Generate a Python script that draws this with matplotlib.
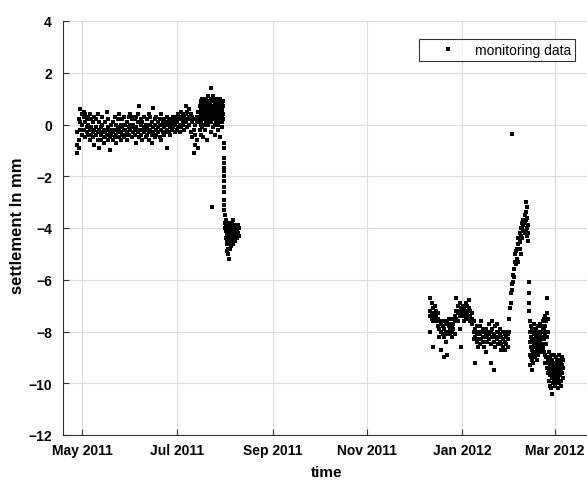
import matplotlib
matplotlib.use("Agg")
import matplotlib.pyplot as plt
import matplotlib.dates as mdates
import pandas as pd

plt.rcParams['font.family'] = ['Liberation Sans', 'DejaVu Sans']

# readings: (days after 2011-05-01, [settlement values in mm])
spring_2011 = [
    (-3, [-1.1, -0.8, -0.3]), (-2, [-0.6, 0.2, -0.9]), (-1, [0.6, -0.2, 0.1]),
    (0, [0.4, -0.4, 0.0]), (1, [0.3, -0.2, 0.5]), (2, [-0.5, 0.1, 0.4]),
    (3, [-0.3, 0.2, -0.1]), (4, [0.3, -0.4, 0.0]), (5, [-0.2, 0.4, -0.6]),
    (6, [-0.1, 0.2, -0.4]), (7, [-0.3, 0.1, -0.5]), (8, [0.3, -0.2, -0.8]),
    (9, [-0.1, 0.2, -0.4]), (10, [-0.3, 0.4, -0.6]), (11, [-0.9, -0.2, 0.1]),
    (12, [-0.4, -0.1, -0.6]), (13, [0.0, -0.3, 0.3]), (14, [-0.5, -0.2, -0.7]),
    (15, [0.1, -0.3, -0.5]), (16, [-0.2, 0.5, -0.4]), (17, [-0.6, -0.1, 0.2]),
    (18, [-0.3, -1.0, -0.5]), (19, [0.0, -0.4, -0.2]), (20, [-0.6, 0.1, -0.3]),
    (21, [-0.2, -0.5, 0.3]), (22, [-0.4, 0.0, -0.7]), (23, [0.2, -0.3, -0.1]),
    (24, [-0.5, 0.4, -0.2]), (25, [-0.3, 0.0, -0.6]), (26, [0.2, -0.4, -0.1]),
    (27, [-0.2, 0.3, -0.5]), (28, [-0.4, 0.0, -0.2]), (29, [0.1, -0.3, -0.6]),
    (30, [-0.1, 0.3, -0.4]), (31, [-0.2, 0.0, 0.4]), (32, [-0.5, -0.1, 0.2]),
    (33, [0.0, -0.3, 0.3]), (34, [-0.2, 0.2, -0.4]), (35, [0.3, -0.1, -0.7]),
    (36, [0.1, -0.3, 0.4]), (37, [0.7, -0.2, -0.5]), (38, [-0.4, 0.0, 0.2]),
    (39, [-0.6, -0.2, 0.1]), (40, [-0.3, 0.3, -0.1]), (41, [-0.5, 0.0, -0.2]),
    (42, [0.2, -0.4, -0.1]), (43, [-0.3, 0.4, -0.6]), (44, [0.0, -0.2, 0.3]),
    (45, [-0.4, 0.1, -0.7]), (46, [0.65, -0.1, -0.3]), (47, [0.2, -0.5, 0.0]),
    (48, [-0.2, 0.3, -0.4]), (49, [0.1, -0.3, -0.1]), (50, [-0.5, 0.0, 0.2]),
    (51, [-0.2, 0.4, -0.6]), (52, [0.0, -0.3, 0.1]), (53, [-0.1, -0.4, 0.2]),
    (54, [-0.3, 0.0, 0.1]), (55, [-0.9, -0.2, 0.3]), (56, [0.0, -0.3, 0.2]),
    (57, [-0.1, 0.1, -0.4]), (58, [0.2, -0.2, 0.0]), (59, [0.1, -0.1, 0.3]),
    (60, [-0.3, 0.2, 0.0]), (61, [0.1, -0.2, 0.3]),
]

summer_2011 = [
    (62, [0.2, -0.1, 0.4]), (63, [0.0, 0.3, -0.3]), (64, [0.2, 0.5, -0.1]),
    (65, [0.1, 0.4, 0.0]), (66, [0.3, -0.2, 0.2]), (67, [0.7, 0.1, 0.4]),
    (68, [0.2, 0.5, -0.1]), (69, [0.3, 0.0, 0.6]), (70, [0.2, -0.3, 0.4]),
    (71, [-0.5, 0.1, 0.3]), (72, [-1.1, -0.2, 0.2]), (73, [-0.8, 0.0, -0.4]),
    (74, [-0.6, 0.3, 0.1]), (75, [-0.9, 0.2, 0.5]),
    (76, [0.3, 0.7, -0.2, 0.5]), (76.5, [0.9, 0.1, 0.4, -0.4]),
    (77, [0.6, 0.2, 0.8, 0.0]), (77.5, [0.4, 1.0, -0.1, 0.6]),
    (78, [0.8, 0.3, 0.5, -0.5]), (78.5, [0.2, 0.7, 0.4, 1.0]),
    (79, [0.5, 0.0, 0.9, 0.3]), (79.5, [0.6, 0.2, 0.8, -0.2]),
    (80, [0.4, 1.0, 0.1, 0.7]), (80.5, [0.3, 0.6, 0.9, -0.6]),
    (81, [0.5, 0.2, 0.8, 0.4]), (81.5, [1.1, 0.3, 0.6, 0.0]),
    (82, [0.4, 0.7, 0.2, 0.9]), (82.5, [0.5, 0.1, 0.8, 0.3]),
    (83, [0.6, 1.0, 0.3, -0.3]), (83.5, [1.4, 0.4, 0.7, 0.1]),
    (84, [0.5, 0.9, 0.2, 0.6, -3.2]), (84.5, [0.3, 0.7, 1.1, -0.1]),
    (85, [0.6, 0.2, 0.9, 0.4]), (85.5, [0.4, 0.8, 0.0, 0.6]),
    (86, [0.7, 0.3, 1.0, -0.4]), (86.5, [0.5, 0.1, 0.8, 0.3]),
    (87, [0.4, 0.9, 0.2, 0.6]), (87.5, [0.7, 0.3, 1.0, 0.0]),
    (88, [0.5, 0.8, 0.2, -0.2]), (88.5, [0.3, 0.6, 0.9, 0.1]),
    (89, [0.7, 0.4, 1.0, -0.5]), (89.5, [0.5, 0.2, 0.8, 0.3]),
    (90, [0.6, 0.9, 0.1, 0.4]), (90.5, [0.8, 0.3, 0.5, -0.1]),
    (91, [0.7, 0.2, 0.9, 0.4]),
    (91.6, [-0.7, -0.9, -1.3, -1.5, -1.7, -1.8, -2.0, -2.2, -2.4, -2.6, -2.9, -3.1, -3.3]),
]

august_2011 = [
    (92.2, [-3.5, -3.8, -4.0]), (92.7, [-3.7, -4.1, -4.4, -3.9]),
    (93.2, [-4.0, -4.3, -4.6, -3.8]), (93.7, [-4.2, -4.5, -4.9, -4.0]),
    (94.2, [-4.4, -4.8, -5.0, -4.1]), (94.7, [-4.6, -5.2, -4.3, -4.0]),
    (95.2, [-4.2, -4.5, -3.9, -4.8]), (95.7, [-4.0, -4.3, -4.6, -3.8]),
    (96.2, [-4.1, -3.9, -4.4, -4.7]), (96.7, [-4.2, -4.0, -3.8, -4.5]),
    (97.2, [-4.3, -4.1, -3.9, -4.6]), (97.7, [-4.0, -4.2, -4.4, -3.7]),
    (98.2, [-3.9, -4.1, -4.3]), (98.7, [-4.2, -4.0, -4.5]),
    (99.2, [-4.1, -4.3, -3.9]), (99.7, [-4.4, -4.0, -4.2]),
    (100.2, [-4.1, -4.3]), (100.7, [-3.9, -4.2]), (101.2, [-4.0, -4.3]),
]

winter_2012 = [
    (224.5, [-6.7, -7.2, -7.4, -8.0]), (225.5, [-6.9, -7.3, -7.5]),
    (226.5, [-7.1, -7.4, -7.6, -8.6]), (227.5, [-7.0, -7.3, -7.5]),
    (228.5, [-7.2, -7.6, -7.4]), (229.5, [-7.5, -7.8, -7.3]),
    (230.5, [-7.6, -7.9, -8.2]), (231.5, [-7.7, -8.0, -8.7]),
    (232.5, [-7.8, -8.1, -7.6]), (233.5, [-7.9, -9.0, -8.2]),
    (234.5, [-8.0, -7.7, -8.4]), (235.5, [-7.6, -8.1, -8.9]),
    (236.5, [-7.8, -8.0, -7.5]), (237.5, [-8.1, -7.7, -7.9]),
    (238.5, [-7.8, -8.0, -8.2]), (239.5, [-7.5, -7.9, -7.7]),
    (240.5, [-7.6, -8.1, -7.4]), (241.5, [-6.7, -7.2, -7.5]),
    (242.5, [-7.0, -7.3, -7.6]), (243.5, [-6.9, -7.2, -7.4, -7.9]),
    (244.5, [-7.1, -7.3, -8.6]), (245.5, [-7.0, -7.4, -7.2]),
    (246.5, [-7.3, -7.1, -7.6]), (247.5, [-6.9, -7.2, -7.5]),
    (248.5, [-7.0, -7.4, -7.3]), (249.5, [-6.8, -7.1, -7.5]),
    (250.5, [-7.2, -7.4, -7.6]), (251.5, [-7.3, -7.5, -7.7]),
    (252.5, [-7.6, -8.0, -8.3]), (253.5, [-7.9, -8.2, -9.2]),
    (254.5, [-8.1, -7.8, -8.4]), (255.5, [-8.0, -8.3, -8.6]),
    (256.5, [-7.8, -8.1, -8.5]), (257.5, [-7.6, -8.0, -8.3]),
    (258.5, [-8.2, -8.4, -7.9]), (259.5, [-8.0, -8.6, -8.2]),
    (260.5, [-7.9, -8.1, -8.8]), (261.5, [-8.2, -8.0, -8.4]),
    (262.5, [-7.7, -8.1, -8.3]), (263.5, [-8.0, -8.5, -9.2]),
    (264.5, [-7.6, -7.9, -8.2]), (265.5, [-8.1, -8.4, -9.5]),
    (266.5, [-7.8, -8.2, -8.6]), (267.5, [-8.0, -8.3, -7.7]),
    (268.5, [-8.2, -8.0, -8.5]), (269.5, [-7.9, -8.1, -8.4]),
    (270.5, [-8.2, -8.5, -8.7]), (271.5, [-8.0, -8.3, -8.6]),
    (272.5, [-8.1, -8.4, -8.7]), (273.5, [-8.2, -8.5, -8.0]),
    (274.5, [-8.3, -8.6, -8.1]), (275.2, [-7.5, -8.0]),
    (275.8, [-7.1]), (276.4, [-6.5, -6.9]), (277.0, [-6.15, -6.4, -0.35]),
    (277.8, [-5.8, -6.1]), (278.5, [-5.6, -5.9]), (279.2, [-5.3, -5.0]),
    (280.0, [-5.4, -4.9]), (280.8, [-4.8, -5.2]), (281.5, [-4.4, -4.6, -5.3]),
    (282.2, [-4.55, -4.2, -4.8]), (283.0, [-4.3, -4.0, -5.0]),
    (283.8, [-4.0, -4.4, -3.8]), (284.6, [-3.7, -4.1, -3.9]),
    (285.4, [-3.5, -4.2, -3.8]), (286.2, [-3.0, -3.4, -3.7, -4.1]),
    (287.0, [-3.2, -3.6, -4.0, -4.3]), (287.8, [-4.2, -4.5, -3.9]),
    (288.5, [-6.1, -6.5, -6.9, -7.2]),
    (289.2, [-7.6, -8.0, -8.4, -8.9, -9.3]), (289.8, [-7.8, -8.2, -8.6, -9.0]),
    (290.4, [-7.9, -8.3, -8.7, -9.1, -9.5]), (291.0, [-8.0, -8.4, -8.8, -9.2]),
    (291.6, [-7.7, -8.1, -8.5, -8.9]), (292.2, [-8.0, -8.3, -8.6, -9.0]),
    (292.8, [-7.9, -8.2, -8.5, -8.8]), (293.4, [-8.1, -8.4, -8.7, -9.1]),
    (294.0, [-7.8, -8.2, -8.5, -8.9]), (294.6, [-8.0, -8.3, -8.6]),
    (295.2, [-7.7, -8.1, -8.4, -8.8]), (295.8, [-8.0, -8.3, -8.7]),
    (296.4, [-7.8, -8.2, -8.5]), (297.0, [-7.6, -8.0, -8.3, -8.7]),
    (297.6, [-7.9, -8.2, -8.6]), (298.2, [-7.5, -7.9, -8.3, -8.8]),
    (298.8, [-7.4, -7.8, -8.1, -8.9, -9.2]), (299.4, [-7.6, -8.0, -8.5, -9.0]),
    (300.0, [-6.7, -7.3, -8.2, -9.4]), (300.6, [-7.5, -8.0, -9.1, -9.6]),
    (301.2, [-8.8, -9.2, -9.5, -9.9]), (301.8, [-9.0, -9.3, -9.7, -10.1]),
    (302.4, [-8.9, -9.4, -9.6, -10.2]), (303.0, [-9.1, -9.5, -9.8, -10.4]),
    (303.6, [-9.2, -9.4, -9.7, -10.0]), (304.2, [-8.9, -9.3, -9.6, -9.9]),
    (304.8, [-9.2, -9.5, -9.8, -10.1]), (305.4, [-9.0, -9.4, -9.7, -10.0]),
    (306.0, [-9.3, -9.5, -9.8]), (306.6, [-9.1, -9.4, -9.6, -9.9]),
    (307.2, [-9.2, -9.5, -9.8, -10.2]), (307.8, [-8.9, -9.3, -9.6, -10.0]),
    (308.4, [-9.1, -9.4, -9.7]), (309.0, [-9.2, -9.5, -9.9, -10.1]),
    (309.6, [-9.0, -9.3, -9.6]), (310.2, [-9.1, -9.4, -9.8]),
]

start = pd.Timestamp("2011-05-01")

days = []
settlement = []
for segment in [spring_2011, summer_2011, august_2011, winter_2012]:
    for d, readings in segment:
        for r in readings:
            days.append(d)
            settlement.append(r)

dates = start + pd.to_timedelta(days, unit="D")

fig = plt.figure(figsize=(5.87, 4.81), dpi=100)
ax = fig.add_axes([63 / 587, 45 / 481, 540 / 587, 414 / 481])

ax.plot(dates, settlement, linestyle="none", marker="s", markersize=2.3,
        color="black", markeredgewidth=0, label="monitoring data")

ax.set_ylim(-12, 4)
ax.set_yticks(range(-12, 5, 2))
ax.set_xlim(pd.Timestamp("2011-04-18 18:00"), pd.Timestamp("2012-04-01"))
ax.xaxis.set_major_locator(mdates.MonthLocator(bymonth=[1, 3, 5, 7, 9, 11]))
ax.xaxis.set_major_formatter(mdates.DateFormatter("%b %Y"))

ax.grid(True, color="#dcdcdc", linewidth=0.8)
ax.set_axisbelow(True)
ax.spines["top"].set_visible(False)
ax.spines["right"].set_visible(False)
ax.spines["left"].set_color("#333333")
ax.spines["bottom"].set_color("#333333")
ax.tick_params(direction="in", length=4, color="#333333", labelsize=10)
ax.tick_params(axis="x", pad=6)
ax.tick_params(axis="y", pad=8)
for lbl in ax.get_xticklabels() + ax.get_yticklabels():
    lbl.set_fontweight("bold")

fig.text(18 / 587, 1 - 226 / 481, "settlement ln mm", rotation=90, ha="center",
         va="center", fontsize=12, fontweight="bold")
fig.text(327 / 587, 1 - 466 / 481, "time", ha="center", va="top",
         fontsize=11, fontweight="bold")

leg = ax.legend(loc="upper right", bbox_to_anchor=(575 / 587, 1 - 40 / 481),
                bbox_transform=fig.transFigure, fancybox=False, fontsize=10,
                markerscale=1.0, handlelength=3.5, handletextpad=0.2,
                borderpad=0.3, borderaxespad=0)
leg.get_frame().set_edgecolor("black")
leg.get_frame().set_linewidth(0.8)

fig.savefig("out.png", dpi=100)
